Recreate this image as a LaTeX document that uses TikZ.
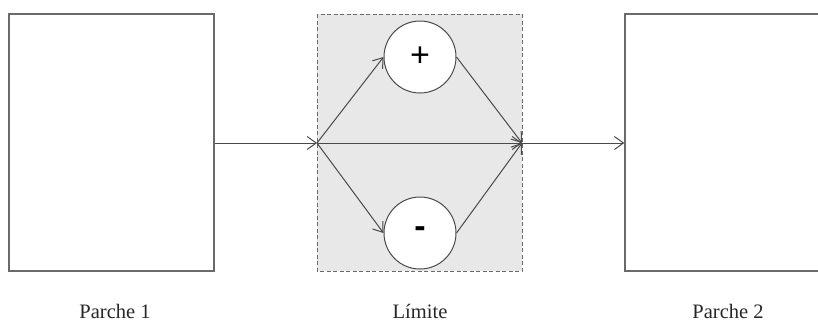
\documentclass[tikz,border=0pt]{standalone}
\usepackage{fontspec}
\setmainfont{Liberation Serif}
\newfontfamily\signfont{Liberation Sans}
\usetikzlibrary{arrows.meta}
\definecolor{linegray}{HTML}{4A4A4A}
\definecolor{boxgray}{HTML}{6A6A6A}
\definecolor{fillgray}{HTML}{E8E8E8}
\begin{document}
\begin{tikzpicture}[x=1pt,y=-1pt,
  patch/.style={draw=boxgray,line width=1.2pt,fill=white},
  circ/.style={circle,draw=linegray,line width=1pt,fill=white,minimum size=72pt,inner sep=0pt,font=\signfont\fontsize{34}{34}\selectfont},
  conn/.style={draw=linegray,line width=1pt,-{Straight Barb[length=9pt,width=13pt,line width=1pt]}},
  lbl/.style={font=\fontsize{20.5}{24}\selectfont,text=black!85}]
\useasboundingbox (0,0) rectangle (818,325);
% boxes
\draw[patch] (9,14) rectangle (214,271);
\node (p1) at (214,143) [inner sep=0pt] {};
\draw[patch] (625,14) rectangle (830,271);
\node (p2) at (625,143) [inner sep=0pt] {};
\draw[draw=boxgray,fill=fillgray,line width=0.9pt,dash pattern=on 4pt off 2.5pt] (317,14) rectangle (522,271);
% junctions
\coordinate (in) at (317,143);
\coordinate (out) at (522,143);
% circles
\node[circ] (plus) at (420,57) {\raisebox{1pt}{+}};
\node[circ] (minus) at (420,233) {\raisebox{2pt}{\textbf{-}}};
% connectors
\draw[conn] (p1) -- (in);
\draw[conn] (in) -- (plus.west);
\draw[conn] (in) -- (minus.west);
\draw[conn] (in) -- (out);
\draw[conn] (plus.east) -- (out);
\draw[conn] (minus.east) -- (out);
\draw[conn] (out) -- (p2);
% labels
\node[lbl] (l1) at (115,311) {Parche 1};
\node[lbl] (l2) at (420,311) {Límite};
\node[lbl] (l3) at (728,311) {Parche 2};
\end{tikzpicture}
\end{document}
